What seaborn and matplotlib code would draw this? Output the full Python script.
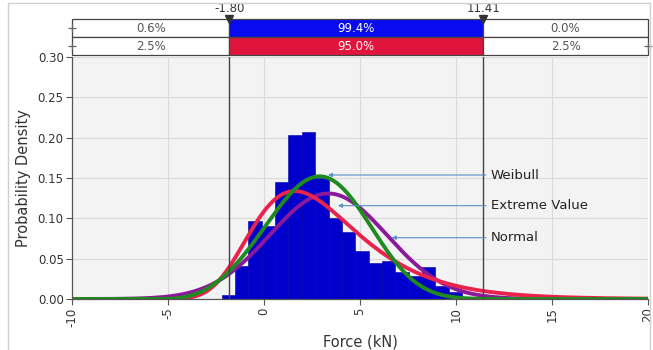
import numpy as np
import pandas as pd
import matplotlib
matplotlib.use("Agg")
import matplotlib.pyplot as plt
import seaborn as sns
from matplotlib.patches import Rectangle

# ---------------- data ----------------
bin_start = -2.2
bin_width = 0.695
bar_heights = [0.005, 0.041, 0.097, 0.090, 0.145, 0.203, 0.207, 0.150, 0.101,
               0.083, 0.059, 0.045, 0.047, 0.033, 0.028, 0.040, 0.016, 0.009, 0.003]

normal_mean, normal_sd = 3.35, 3.05
extval_mode, extval_scale = 1.6, 2.75
weibull_shape, weibull_scale, weibull_loc = 3.6, 9.09, -5.41

left_cut, right_cut = -1.80, 11.41
row1_labels = ["0.6%", "99.4%", "0.0%"]
row2_labels = ["2.5%", "95.0%", "2.5%"]
cut_labels = ["-1.80", "11.41"]
curve_names = ["Weibull", "Extreme Value", "Normal"]
arrow_tips_x = [3.33, 3.85, 6.65]
arrow_tips_y = [0.1537, 0.1157, 0.076]
xticks = [-10, -5, 0, 5, 10, 15, 20]
yticks = [0.00, 0.05, 0.10, 0.15, 0.20, 0.25, 0.30]

# ---------------- derived ----------------
n_bins = len(bar_heights)
edges = bin_start + bin_width * np.arange(n_bins + 1)
centers = (edges[:-1] + edges[1:]) / 2
hist_df = pd.DataFrame({"x": centers, "w": bar_heights})

xs = np.linspace(-10, 20, 901)
pdf_normal = np.exp(-0.5 * ((xs - normal_mean) / normal_sd) ** 2) / (normal_sd * np.sqrt(2 * np.pi))
z = (xs - extval_mode) / extval_scale
pdf_ev = np.exp(-(z + np.exp(-z))) / extval_scale
t = np.clip((xs - weibull_loc) / weibull_scale, 0, None)
pdf_wb = (weibull_shape / weibull_scale) * t ** (weibull_shape - 1) * np.exp(-t ** weibull_shape)
curves = pd.DataFrame({"x": xs, "Normal": pdf_normal, "Extreme Value": pdf_ev, "Weibull": pdf_wb})

# ---------------- plot ----------------
sns.set_theme(style="white")
plt.rcParams['font.family'] = ['DejaVu Sans']

W, H = 653, 350
fig = plt.figure(figsize=(W / 100, H / 100), dpi=100)
fig.patch.set_facecolor("white")

ax = fig.add_axes([72 / W, 1 - 299 / H, 576 / W, 242 / H])
ax.set_facecolor("#f3f3f3")

sns.histplot(data=hist_df, x="x", weights="w", binwidth=bin_width,
             binrange=(float(edges[0]), float(edges[-1])), stat="count",
             color="#0000cd", edgecolor="#0000a8", linewidth=0.4, alpha=1.0, ax=ax)

sns.lineplot(data=curves, x="x", y="Normal", color="#8a1a9b", lw=2.8, ax=ax)
sns.lineplot(data=curves, x="x", y="Extreme Value", color="#e8234e", lw=2.8, ax=ax)
sns.lineplot(data=curves, x="x", y="Weibull", color="#1f8a1f", lw=2.8, ax=ax)

ax.set_xlim(-10, 20)
ax.set_ylim(0, 0.30)
ax.set_xticks(xticks)
ax.set_yticks(yticks)
ax.grid(True, color="#dadada", lw=0.8)
ax.set_axisbelow(True)

ax.axvline(left_cut, color="#444444", lw=1.0)
ax.axvline(right_cut, color="#444444", lw=1.0)

for name, tx, ty in zip(curve_names, arrow_tips_x, arrow_tips_y):
    ax.annotate(name, xy=(tx, ty), xytext=(11.8, ty), va="center", ha="left",
                fontsize=9.5, color="#222222",
                arrowprops=dict(arrowstyle="-|>", color="#5b8fc7", lw=0.8,
                                shrinkA=1, shrinkB=0, mutation_scale=6))

ax.set_xticklabels([str(v) for v in xticks], rotation=90, fontsize=8.5, color="#333333")
ax.set_yticklabels([f"{v:.2f}" for v in yticks], fontsize=8.5, color="#333333")
ax.tick_params(axis="both", which="both", direction="out", length=4, width=0.8,
               color="#555555", left=True, bottom=True, pad=2)
for s in ["top", "right"]:
    ax.spines[s].set_visible(False)
for s in ["left", "bottom"]:
    ax.spines[s].set_color("#555555")
    ax.spines[s].set_linewidth(0.9)

ax.set_xlabel("Force (kN)", fontsize=10.5, color="#333333")
ax.set_ylabel("Probability Density", fontsize=10.5, color="#333333")
ax.xaxis.set_label_coords(0.5, -0.145)
ax.yaxis.set_label_coords(-0.072, 0.5)

# ---------------- top band ----------------
bax = fig.add_axes([72 / W, 1 - 55 / H, 576 / W, 36 / H])
bax.set_xlim(-10, 20)
bax.set_ylim(0, 2)
bax.axis("off")
lefts = [-10, left_cut, right_cut]
widths = [left_cut + 10, right_cut - left_cut, 20 - right_cut]
bax.barh([1.5] * 3, widths, left=lefts, height=1, color=["white", "#0a0af0", "white"],
         edgecolor="#444444", linewidth=0.9, clip_on=False)
bax.barh([0.5] * 3, widths, left=lefts, height=1, color=["white", "#e0143c", "white"],
         edgecolor="#444444", linewidth=0.9, clip_on=False)
for i in range(3):
    cx = lefts[i] + widths[i] / 2
    col = "white" if i == 1 else "#555555"
    bax.text(cx, 1.5, row1_labels[i], ha="center", va="center", fontsize=8.5, color=col)
    bax.text(cx, 0.5, row2_labels[i], ha="center", va="center", fontsize=8.5, color=col)

bax.plot([left_cut, right_cut], [2.0, 2.0], ls="none", marker="v", ms=6,
         color="#333333", clip_on=False, zorder=5)
for xv, lab in zip([left_cut, right_cut], cut_labels):
    bax.text(xv, 2.58, lab, ha="center", va="center", fontsize=8.5, color="#333333")
bax.plot([-10, -10, 20], [1.5, 0.5, 0.5], ls="none", marker="+", ms=6, mew=0.9,
         color="#666666", clip_on=False)

fig.add_artist(Rectangle((8 / W, -0.01), 642 / W, 1 - 3 / H + 0.01, fill=False,
                         edgecolor="#cfcfcf", lw=1.0, transform=fig.transFigure))

fig.savefig("out.png", dpi=100)
